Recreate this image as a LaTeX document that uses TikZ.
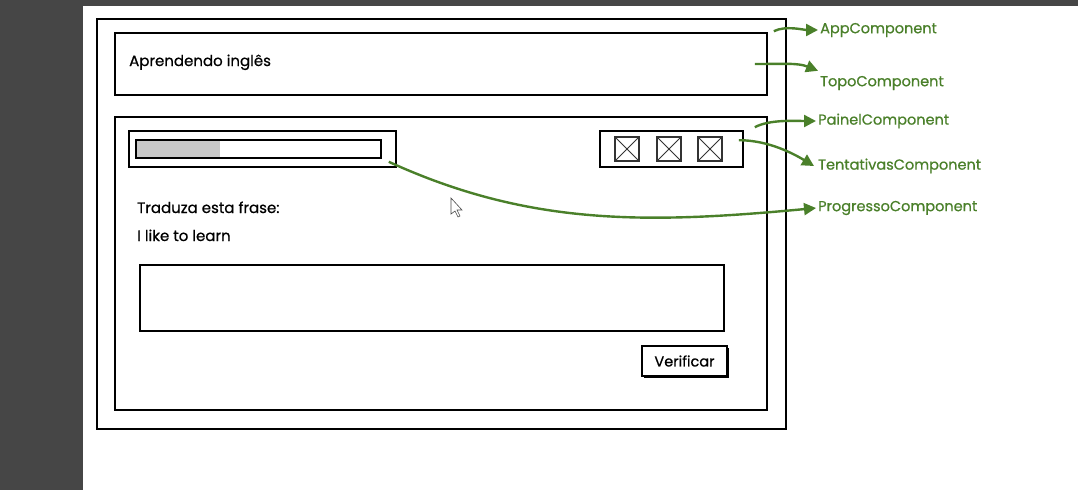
\documentclass[tikz,border=0pt]{standalone}
\usepackage{fontspec}
\setmainfont{Poppins}[UprightFeatures={FakeBold=0.7}]
\usetikzlibrary{arrows.meta,shadows}
\definecolor{tagGreen}{RGB}{74,128,42}
\definecolor{sideGray}{RGB}{70,70,70}
\definecolor{barGray}{RGB}{200,200,200}
\tikzset{
  box/.style={draw=black, line width=1.6pt, inner sep=0pt},
  crossbox/.style={draw=black!80, line width=1.2pt, minimum size=24pt, inner sep=0pt,
    path picture={\draw[black!80, line width=1pt] (path picture bounding box.north west) -- (path picture bounding box.south east)
      (path picture bounding box.north east) -- (path picture bounding box.south west);}},
  tag/.style={text=tagGreen, anchor=west, inner sep=2pt, font=\fontsize{14.5}{16}\selectfont},
  body/.style={anchor=base west, inner sep=0pt, font=\fontsize{15}{17}\selectfont},
  link/.style={draw=tagGreen, line width=2.4pt, -{Triangle[length=12pt,width=12pt]}},
}
\begin{document}
\begin{tikzpicture}[x=1pt,y=-1pt]
  \useasboundingbox (0,0) rectangle (1078,490);
  \fill[white] (0,0) rectangle (1078,490);
  \fill[sideGray] (0,0) rectangle (83,490);
  \fill[sideGray] (83,0) rectangle (1078,6);

  % wireframe
  \node[box, minimum width=689pt, minimum height=410pt] (app) at (441.5,224) {};
  \node[box, minimum width=652pt, minimum height=62pt] (topo) at (441,64) {};
  \node[box, minimum width=652pt, minimum height=293pt] (painel) at (441,263.5) {};
  \node[body] (titulo) at (129,66) {Aprendendo inglês};

  \node[box, minimum width=267pt, minimum height=36pt] (progresso) at (262.5,149) {};
  \node[box, line width=1.4pt, minimum width=245pt, minimum height=18pt,
    path picture={\fill[barGray] (path picture bounding box.north west) rectangle ([xshift=84pt]path picture bounding box.south west);}]
    (barra) at (258.5,149) {};

  \node[box, minimum width=143pt, minimum height=36pt] (tentativas) at (671.5,149) {};
  \foreach \cx/\nm in {627/a, 669/b, 710/c}
    \node[crossbox] (tent\nm) at (\cx,149) {};

  \node[body] (frase) at (137,213) {Traduza esta frase:};
  \node[body] (ingles) at (137,241) {I like to learn};
  \node[box, minimum width=584pt, minimum height=66pt] (resposta) at (432,298) {};
  \node[box, line width=1.2pt, fill=white, minimum width=85pt, minimum height=30pt,
    font=\fontsize{14.5}{16}\selectfont,
    drop shadow={shadow xshift=2pt, shadow yshift=-2pt, fill=black, opacity=1}] (verificar) at (684.5,361) {Verificar};

  % cursor
  \filldraw[fill=white, draw=black!70, line width=0.6pt] (451,198) -- (451,214) -- (455,211) -- (458,217)
    -- (460,216) -- (457,210) -- (462,210) -- cycle;

  % labels
  \node[tag] (appTag) at (818,30) {AppComponent};
  \node[tag] (topoTag) at (818,83) {TopoComponent};
  \node[tag] (painelTag) at (816,121) {PainelComponent};
  \node[tag] (tentTag) at (816,166) {TentativasComponent};
  \node[tag] (progTag) at (816,208) {ProgressoComponent};

  \draw[link] ([xshift=-13pt,yshift=-13pt]app.north east) .. controls +(12,-6) and +(-14,0) .. (appTag.west);
  \draw[link] ([xshift=-13pt]topo.east) .. controls +(30,0) and +(-20,-8) .. ([yshift=3pt]topoTag.north west);
  \draw[link] ([xshift=-13pt,yshift=-11pt]painel.north east) .. controls +(15,-8) and +(-20,0) .. (painelTag.west);
  \draw[link] ([xshift=-5pt,yshift=-10pt]tentativas.north east) .. controls +(30,0) and +(-20,-12) .. ([xshift=-2pt]tentTag.west);
  \draw[link] ([xshift=-8pt,yshift=6pt]progresso.south east) .. controls +(140,64) and +(-170,16) .. (progTag.west);
\end{tikzpicture}
\end{document}
